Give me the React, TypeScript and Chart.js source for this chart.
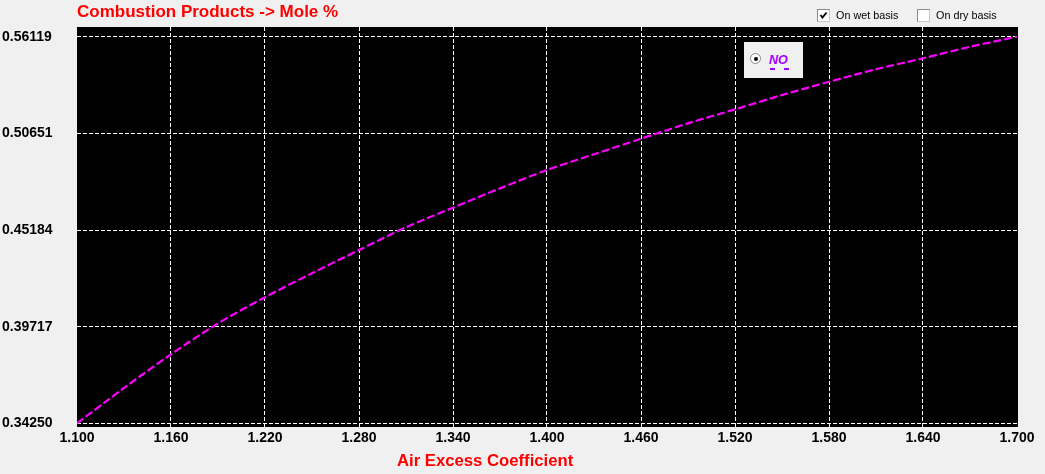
import React, { useEffect, useRef } from "react";
import { Chart, registerables } from "chart.js";

Chart.register(...registerables);

const AIR_EXCESS = [1.10, 1.13, 1.16, 1.19, 1.22, 1.25, 1.28, 1.31, 1.34, 1.37, 1.40, 1.43, 1.46, 1.49, 1.52, 1.55, 1.58, 1.61, 1.64, 1.67, 1.70];
const NO_MOLE_PCT = [0.3425, 0.3625, 0.3815, 0.3990, 0.4138, 0.4274, 0.4405, 0.4534, 0.4645, 0.4754, 0.4858, 0.4947, 0.5035, 0.5122, 0.5201, 0.5282, 0.5357, 0.5428, 0.5490, 0.5555, 0.56119];
const X_TICKS = [1.1, 1.16, 1.22, 1.28, 1.34, 1.4, 1.46, 1.52, 1.58, 1.64, 1.7];
const Y_TICKS = [0.3425, 0.39717, 0.45184, 0.50651, 0.56119];

const TITLE = "Combustion Products -> Mole %";
const X_TITLE = "Air Excess Coefficient";
const SERIES_NAME = "NO";

const blackBg = {
  id: "blackBg",
  beforeDraw(chart: any) {
    const { ctx, chartArea } = chart;
    ctx.save();
    ctx.fillStyle = "#000000";
    ctx.fillRect(chartArea.left, chartArea.top, chartArea.right - chartArea.left + 1, chartArea.bottom - chartArea.top);
    ctx.restore();
  },
};

function CheckBox({ left, checked, label }: { left: number; checked: boolean; label: string }) {
  return (
    <div style={{ position: "absolute", left, top: 9, height: 13, display: "flex", alignItems: "center" }}>
      <div
        style={{
          width: 11,
          height: 11,
          background: "#ffffff",
          borderTop: "1px solid #8a8a8a",
          borderLeft: "1px solid #8a8a8a",
          borderRight: "1px solid #c8c8c8",
          borderBottom: "1px solid #c8c8c8",
          position: "relative",
        }}
      >
        {checked && (
          <svg width="11" height="11" style={{ position: "absolute", left: 0, top: 0 }}>
            <polyline points="2.5,5 4.5,7.5 8.5,2.5" fill="none" stroke="#000" strokeWidth="1.8" />
          </svg>
        )}
      </div>
      <span
        style={{
          marginLeft: 6,
          fontFamily: "'Liberation Sans', Arial, sans-serif",
          fontSize: 10.8,
          color: "#000",
          whiteSpace: "nowrap",
          lineHeight: "13px",
        }}
      >
        {label}
      </span>
    </div>
  );
}

export default function App() {
  const canvasRef = useRef<HTMLCanvasElement | null>(null);

  useEffect(() => {
    const canvas = canvasRef.current;
    if (!canvas) return;
    const tickFont = { family: "'Liberation Sans', Arial, sans-serif", size: 14, weight: "bold" as const };
    const chart = new Chart(canvas, {
      type: "line",
      data: {
        datasets: [
          {
            label: SERIES_NAME,
            data: AIR_EXCESS.map((x, i) => ({ x, y: NO_MOLE_PCT[i] })),
            borderColor: "#ff00ff",
            borderWidth: 2.2,
            borderDash: [8, 3],
            pointRadius: 0,
            tension: 0.3,
            fill: false,
          },
        ],
      },
      plugins: [blackBg],
      options: {
        responsive: false,
        animation: false,
        devicePixelRatio: 1,
        layout: { padding: { left: 2, right: 28, top: 27, bottom: 0 } },
        plugins: {
          legend: { display: false },
          tooltip: { enabled: false },
          title: { display: false },
        },
        scales: {
          x: {
            type: "linear",
            min: 1.1,
            max: 1.7,
            afterBuildTicks: (scale: any) => {
              scale.ticks = X_TICKS.map((v) => ({ value: v }));
            },
            afterFit: (scale: any) => {
              scale.height = 47;
            },
            ticks: {
              autoSkip: false,
              maxRotation: 0,
              padding: 3,
              color: "#000",
              font: tickFont,
              callback: (v: any) => Number(v).toFixed(3),
            },
            grid: {
              drawTicks: false,
              lineWidth: 1,
              color: (ctx: any) =>
                ctx.index === 0 || ctx.index === X_TICKS.length - 1 ? "rgba(0,0,0,0)" : "#ffffff",
            },
            border: { display: false, dash: [4, 2] },
          },
          y: {
            type: "linear",
            min: 0.3404,
            max: 0.5667,
            afterBuildTicks: (scale: any) => {
              scale.ticks = Y_TICKS.map((v) => ({ value: v }));
            },
            afterFit: (scale: any) => {
              scale.width = 75;
            },
            ticks: {
              crossAlign: "far",
              padding: 0,
              color: "#000",
              font: tickFont,
              callback: (v: any) => Number(v).toFixed(5),
            },
            grid: { drawTicks: false, color: "#ffffff", lineWidth: 1 },
            border: { display: false, dash: [4, 2] },
          },
        },
      },
    } as any);
    return () => chart.destroy();
  }, []);

  return (
    <div style={{ position: "fixed", left: 0, top: 0, width: 1045, height: 474, background: "#f0f0f0", overflow: "hidden" }}>
      <canvas ref={canvasRef} width={1045} height={474} style={{ position: "absolute", left: 0, top: 0, width: 1045, height: 474 }} />
      <div
        style={{
          position: "absolute",
          left: 77,
          top: 3,
          fontFamily: "'Liberation Sans', Arial, sans-serif",
          fontWeight: "bold",
          fontSize: 17,
          lineHeight: "17px",
          color: "#ff0000",
          whiteSpace: "nowrap",
        }}
      >
        {TITLE}
      </div>
      <div
        style={{
          position: "absolute",
          left: 397,
          top: 452,
          fontFamily: "'Liberation Sans', Arial, sans-serif",
          fontWeight: "bold",
          fontSize: 16.7,
          lineHeight: "17px",
          color: "#ff0000",
          whiteSpace: "nowrap",
        }}
      >
        {X_TITLE}
      </div>
      <CheckBox left={817} checked={true} label="On wet basis" />
      <CheckBox left={917} checked={false} label="On dry basis" />
      <div style={{ position: "absolute", left: 744, top: 42, width: 59, height: 36, background: "#f0f0f0" }}>
        <div
          style={{
            position: "absolute",
            left: 6,
            top: 11,
            width: 9,
            height: 9,
            borderRadius: "50%",
            background: "#ffffff",
            border: "1px solid #8a8a8a",
          }}
        >
          <div style={{ position: "absolute", left: 2.5, top: 2.5, width: 4, height: 4, borderRadius: "50%", background: "#000" }} />
        </div>
        <div
          style={{
            position: "absolute",
            left: 25,
            top: 12,
            fontFamily: "'Liberation Sans', Arial, sans-serif",
            fontWeight: "bold",
            fontStyle: "italic",
            fontSize: 12.5,
            lineHeight: "13px",
            color: "#a000ff",
          }}
        >
          {SERIES_NAME}
        </div>
        <div style={{ position: "absolute", left: 26, top: 26, width: 5, height: 2, background: "#a000ff" }} />
        <div style={{ position: "absolute", left: 40, top: 26, width: 5, height: 2, background: "#a000ff" }} />
      </div>
    </div>
  );
}
